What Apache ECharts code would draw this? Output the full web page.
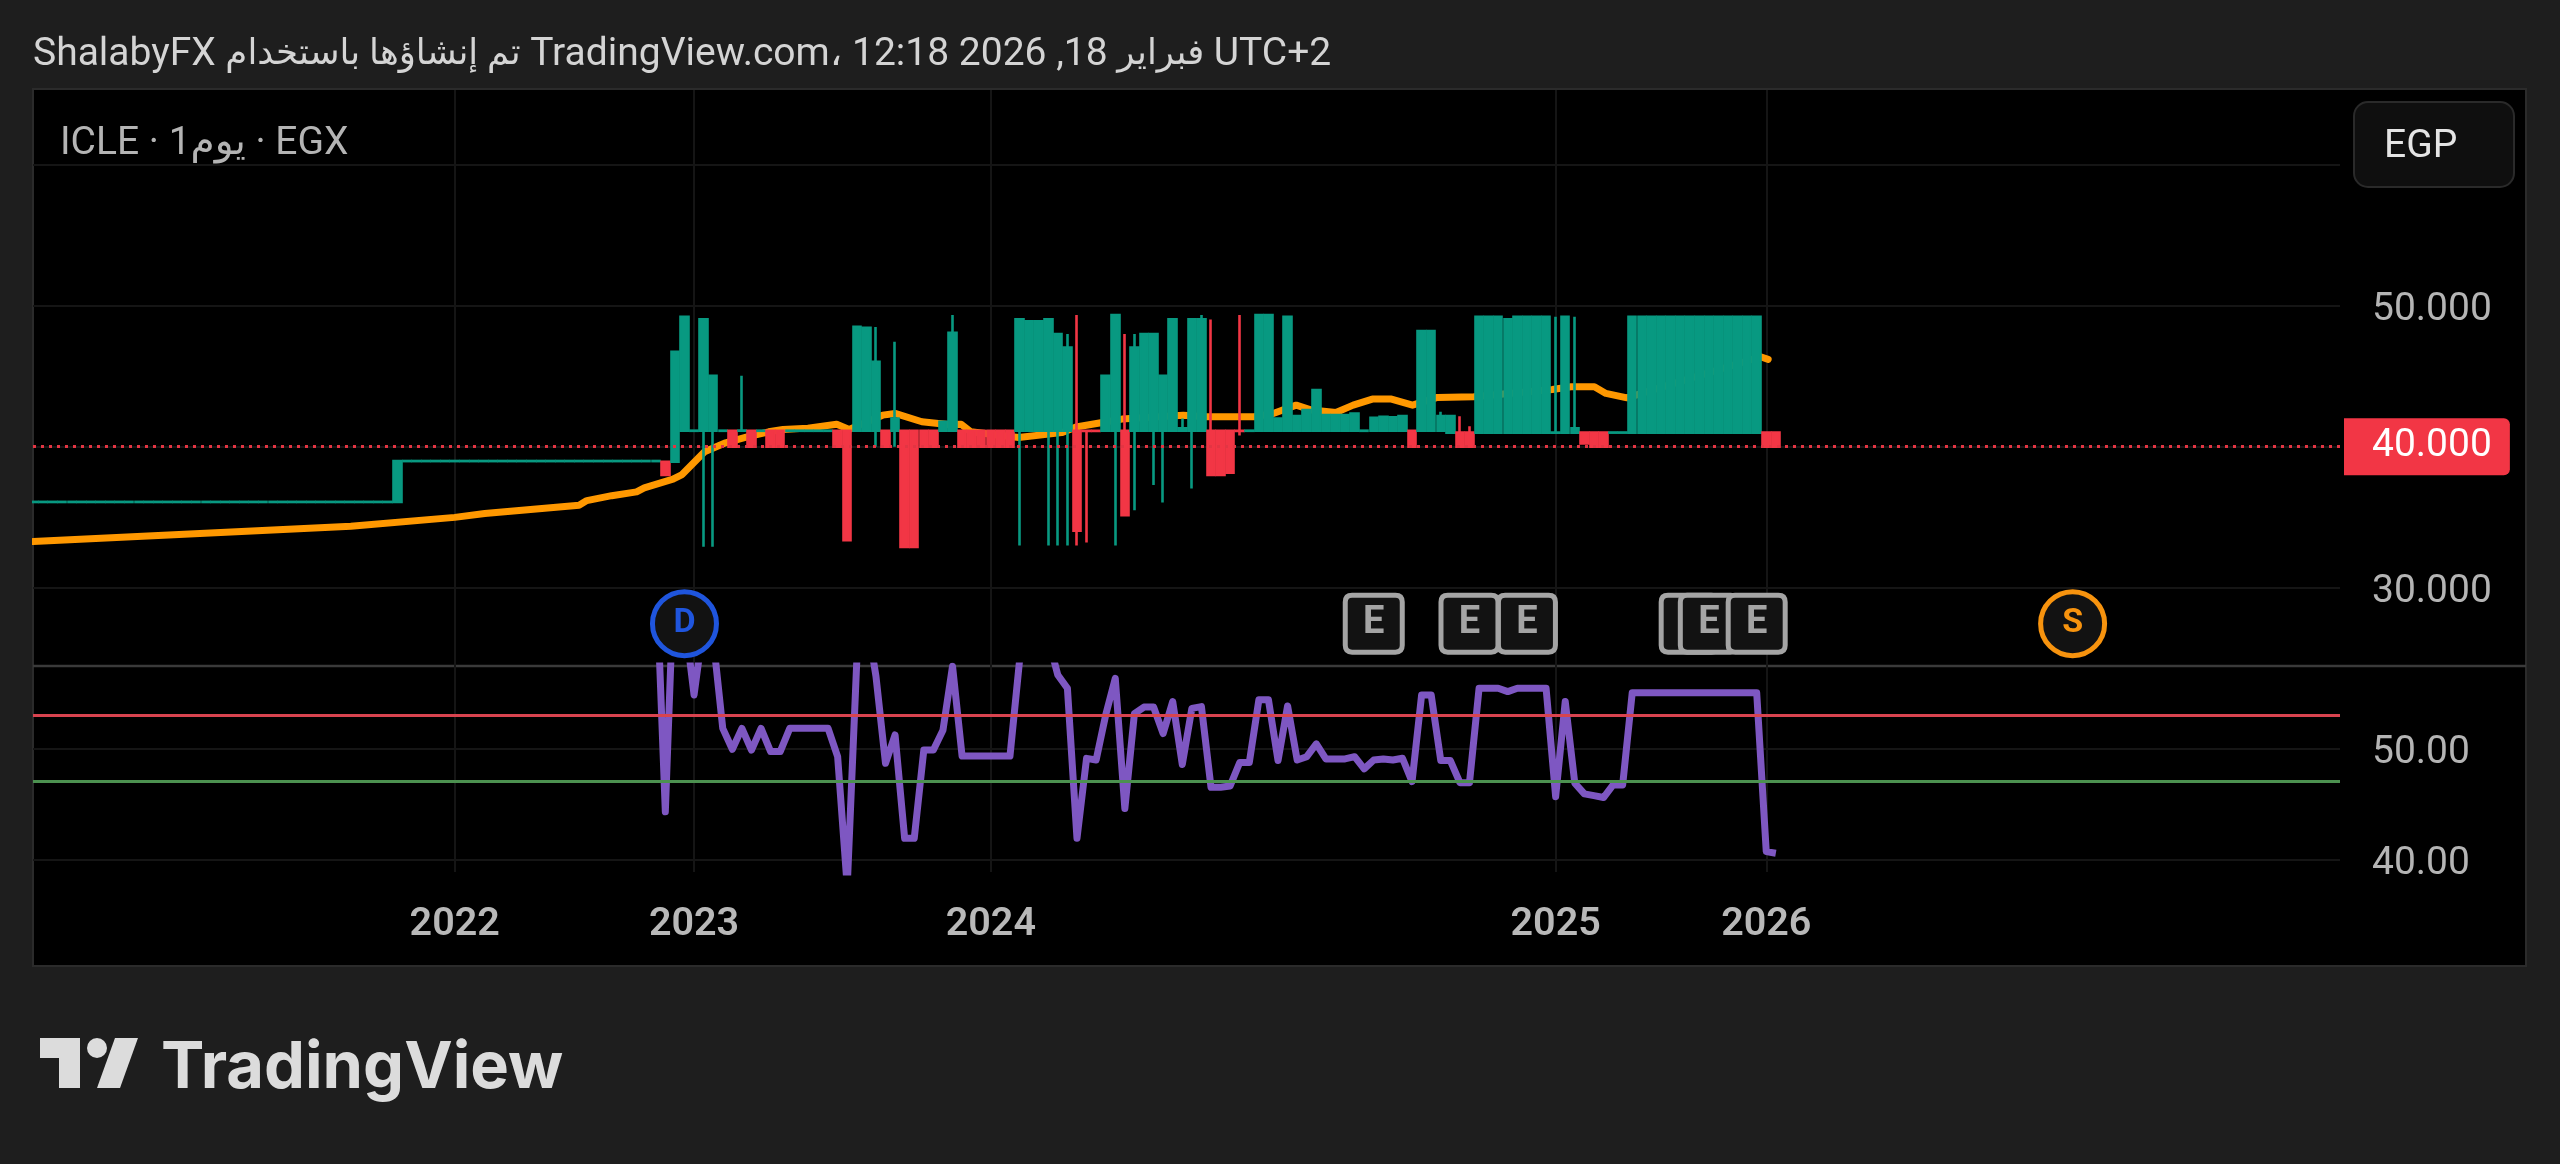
<!DOCTYPE html>
<html dir="ltr"><head><meta charset="utf-8">
<script src="https://cdn.jsdelivr.net/npm/echarts@6/dist/echarts.min.js"></script>
<style>html,body{margin:0;padding:0;background:#1e1e1e}#c{width:2560px;height:1164px}</style>
</head><body><div id="c"></div>
<script>
// Axis ticks (bar numbers on the index-based time scale)
const yearBars = [43, 68, 99, 158, 180];
const yearLabels = ['2022', '2023', '2024', '2025', '2026'];
const priceGrid = [30, 40, 50, 60];
const priceTicks = [30, 50];
const rsiTicks = [40, 50];
const lastPrice = 40;
const rsiUpper = 53.03;
const rsiLower = 47.05;

// Candles: [bar, open, close, low?, high?]
const candles2021 = [
[-1,36.08,36.09],[0,36.08,36.09],[1,36.08,36.09],[2,36.08,36.09],[3,36.08,36.09],[4,36.08,36.09],[5,36.08,36.09],[6,36.08,36.09],[7,36.08,36.09],[8,36.08,36.09],
[9,36.08,36.09],[10,36.08,36.09],[11,36.08,36.09],[12,36.08,36.09],[13,36.08,36.09],[14,36.08,36.09],[15,36.08,36.09],[16,36.08,36.09],[17,36.08,36.09],[18,36.08,36.09],
[19,36.08,36.09],[20,36.08,36.09],[21,36.08,36.09],[22,36.08,36.09],[23,36.08,36.09],[24,36.08,36.09],[25,36.08,36.09],[26,36.08,36.09],[27,36.08,36.09],[28,36.08,36.09],
[29,36.08,36.09],[30,36.08,36.09],[31,36.08,36.09],[32,36.08,36.09],[33,36.08,36.09],[34,36.08,36.09],[35,36.08,36.09],[36,36.08,36.09],[37,36.08,38.98]
];
const candles2022 = [
[38,38.98,38.99],[39,38.98,38.99],[40,38.98,38.99],[41,38.98,38.99],[42,38.98,38.99],[43,38.98,38.99],[44,38.98,38.99],[45,38.98,38.99],[46,38.98,38.99],[47,38.98,38.99],
[48,38.98,38.99],[49,38.98,38.99],[50,38.98,38.99],[51,38.98,38.99],[52,38.98,38.99],[53,38.98,38.99],[54,38.98,38.99],[55,38.98,38.99],[56,38.98,38.99],[57,38.98,38.99],
[58,38.98,38.99],[59,38.98,38.99],[60,38.98,38.99],[61,38.98,38.99],[62,38.98,38.99],[63,38.98,38.99],[64,38.98,38.99],
[65,38.94,38.0],[66,38.94,46.74],[67,41.13,49.22]
];
const candles2023 = [
[68,41.13,41.14],[69,41.13,49.03,32.9],[70,41.13,45.03,32.9],[71,41.13,41.14],[72,41.13,40],[73,41.13,41.14,41.13,45.03],[74,41.13,40],[75,41.13,41.14],[76,41.13,40],[77,41.13,40],
[78,41.13,41.14],[79,41.13,41.14],[80,41.13,41.14],[81,41.13,41.14],[82,41.13,41.14],[83,41.13,40],[84,41.13,33.38],[85,41.13,48.5],[86,41.13,48.44],[87,41.13,46.03,40,48.5],
[88,41.13,40],[89,41.13,42.0,40,47.45],[90,41.13,32.9],[91,41.13,32.9],[92,41.13,40],[93,41.13,40],[94,41.13,41.77],[95,41.13,48.08,41.13,49.34],
[96,41.13,40],[97,41.13,40],[98,41.13,40]
];
const candles2024 = [
[99,41.13,40],[100,41.13,40],[101,41.13,40],[102,41.13,49.03,33],[103,41.13,48.9],[104,41.13,48.9],[105,41.13,49.03,33],[106,41.13,48,33],[107,41.13,47.04,33,48],
[108,41.13,34.04,33,49.34],[109,41.13,41.12,33.2],[110,41.13,41.12],[111,41.13,45.03],[112,41.13,49.34,33],[113,41.13,35.15,35.15,48],[114,41.13,47.04,35.5,48],[115,41.13,48],
[116,41.13,48,37.28],[117,41.13,45.03,36.05],[118,41.13,49.03],[119,41.13,41.3,41.13,42],[120,41.13,49.03,37.04],[121,41.13,49.03,41.13,49.34],[122,41.13,38,38,49.03],[123,41.13,38],
[124,41.13,38.15],[125,41.13,41.12,40.8,49.34],[126,41.13,41.14],[127,41.13,49.34],[128,41.13,49.34],[129,41.13,42],[130,41.13,49.22],[131,41.13,42.17],[132,41.13,42.6],[133,41.13,44.02],
[134,41.13,42.24],[135,41.13,42.24],[136,41.13,42.24],[137,41.13,42.36],[138,41.13,41.14],[139,41.13,42.06],[140,41.13,42.13],[141,41.13,42.08],[142,41.13,42.17],[143,41.13,40],
[144,41.13,48.2],[145,41.13,48.2],[146,41.13,42.17,41.13,42.48],[147,41,42.17],[148,41,40,40,42.17],[149,41,40,40,41.46],[150,41,49.22],[151,41,49.22],[152,41,49.22],[153,41,49.03],
[154,41,49.22],[155,41,49.22],[156,41,49.22],[157,41,49.22]
];
const candles2025 = [
[158,41,41.01,41,49.22],[159,41,49.22],[160,41,41.3,41,49.22],[161,41,40.24],[162,41,40],[163,41,40],[164,41,41.01],[165,41,41.01],[166,41,49.22],[167,41,49.22],[168,41,49.22],[169,41,49.22],
[170,41,49.22],[171,41,49.22],[172,41,49.22],[173,41,49.22],[174,41,49.22],[175,41,49.22],[176,41,49.22],[177,41,49.22],[178,41,49.22],[179,41,49.22],[180,41,40],[181,41,40]
];

// Moving average: [bar, value]
const emaLine = [
[-1.03,33.28],[32.15,34.36],[43,34.99],[46.14,35.26],[55.99,35.85],[56.8,36.18],[59.4,36.53],[62,36.8],[62.8,37.08],[65.8,37.7],[66.75,38.03],[69.1,39.65],
[71.3,40.28],[73.55,40.7],[75.8,41.06],[77.3,41.23],[79.9,41.32],[82.9,41.6],[84.2,41.23],[87.7,42.24],[89,42.36],[91.8,41.77],[94.5,41.58],[95.9,41.6],[96.9,41.06],
[101.9,40.66],[106.4,41],[107.9,41.4],[110.5,41.7],[112.7,41.96],[119.1,42.24],[121.5,42.13],[126.5,42.13],[128.5,42.36],[130.9,42.95],[132.5,42.6],[135.05,42.43],
[136.85,42.95],[138.85,43.38],[140.85,43.38],[143.05,42.95],[145.65,43.5],[149.45,43.54],[157.65,44.06],[159.6,44.25],[162.05,44.25],[163.25,43.78],[165.45,43.47],
[179.4,46.38],[180.2,46.2]
];

// RSI pane: [bar, value]
const rsiA = [
[64,67],[65,44.3],[66,68],[67,62],[68,54.9],[69,61.3],[70,60],[71,51.87],[72,49.97],[73,51.87],[74,49.9],[75,51.87],[76,49.76],[77,49.76],[78,51.87],[79,51.87],[80,51.87],[81,51.87],[82,51.87],
[83,49.3],[84,37.5],[85,58],[86,62],[87,56.6],[88,48.7],[89,51.27],[90,41.9],[91,41.9],[92,49.9],[93,49.9],[94,51.7],[95,57.5],[96,49.36],[97,49.36],[98,49.36],[99,49.36],[100,49.36],[101,49.36]
];
const rsiB = [
[102,58],[103,62],[104,62],[105,60],[106,56.7],[107,55.5],[108,41.9],[109,49.15],[110,49],[111,53.08],[112,56.4],[113,44.6],[114,53.2],[115,53.8],[116,53.8],[117,51.4],[118,54.3],[119,48.6],[120,53.68],
[121,53.84],[122,46.53],[123,46.53],[124,46.65],[125,48.77],[126,48.77],[127,54.45],[128,54.45],[129,48.95],[130,53.9],[131,49],[132,49.3],[133,50.46],[134,49.1],[135,49.1],[136,49.1],[137,49.3],[138,48.2],[139,49],[140,49.1],[141,49],[142,49.16]
];
const rsiC = [
[143,47.04],[144,54.9],[145,54.9],[146,48.95],[147,48.95],[148,46.95],[149,46.95],[150,55.5],[151,55.5],[152,55.5],[153,55.2],[154,55.5],[155,55.5],[156,55.5],[157,55.5],[158,45.68],[159,54.3],[160,46.9],[161,45.93],[162,45.77],[163,45.6],[164,46.74],[165,46.74],
[166,55.1],[167,55.1],[168,55.1],[169,55.1],[170,55.1],[171,55.1],[172,55.1],[173,55.1],[174,55.1],[175,55.1],[176,55.1],[177,55.1],[178,55.1],[179,55.1],[180,40.7],[181,40.55]
];

// Event marks: bar numbers
const dividendBars = [67];
const earningsBars = [139, 149, 155, 172, 174, 179];
const splitBars = [212];
const eventLevel = 27.45;

const headerText = '{l|ShalabyFX }{a|تم إنشاؤها باستخدام}{l| TradingView.com،\u200E 12:18 2026 ,18 }{a|فبراير}{l| UTC+2}';
const symbolText = 'ICLE · 1يوم · EGX';
const currencyText = 'EGP';
const brandText = 'TradingView';

const F = "Roboto, 'DejaVu Sans', sans-serif";
const GREEN = '#089981', RED = '#F23645';
const candleRows = [].concat(candles2021, candles2022, candles2023, candles2024, candles2025)
  .map(r => {
    const o = r[1], c = r[2];
    const low = r[3] !== undefined ? r[3] : Math.min(o, c);
    const high = r[4] !== undefined ? r[4] : Math.max(o, c);
    return [r[0], o, c, low, high];
  });
const rsiRows = [].concat(rsiA, rsiB, rsiC);

const gridLine = { show: true, lineStyle: { color: '#151515', width: 2 } };
const xBase = {
  type: 'value', min: -1.05, max: 239.93, axisLine: { show: false },
  axisTick: { show: false, customValues: yearBars }, splitLine: gridLine
};
const SQUARE = 'path://M12 0H88Q100 0 100 12V88Q100 100 88 100H12Q0 100 0 88V12Q0 0 12 0Z';
const eventSeries = (name, bars, symbol, size, colour, letter, fontSize) => bars.map((b, i) => ({
  type: 'scatter', name, xAxisIndex: 0, yAxisIndex: 0, z: 6 + i, clip: false,
  symbol, symbolSize: size,
  itemStyle: { color: '#121212', borderColor: colour, borderWidth: 5, opacity: 1 },
  label: { show: true, position: 'inside', formatter: letter, color: colour, fontFamily: F, fontSize, fontWeight: 700 },
  data: [[b, eventLevel]]
}));
const sideLabel = { margin: 32, color: '#b4b4b4', fontFamily: F, fontSize: 39, verticalAlign: 'top', lineHeight: 9 };

const option = {
  animation: false,
  backgroundColor: '#1e1e1e',
  textStyle: { fontFamily: F },
  grid: [
    { left: 33, top: 90, width: 2307, height: 576 },
    { left: 33, top: 666, width: 2307, height: 206 }
  ],
  xAxis: [
    Object.assign({ gridIndex: 0, axisLabel: { show: false } }, xBase),
    Object.assign({ gridIndex: 1, axisLabel: {
      show: true, customValues: yearBars, margin: 33, color: '#b8b8b8', fontFamily: F, fontSize: 39.5, fontWeight: 600,
      formatter: v => yearLabels[yearBars.indexOf(v)]
    } }, xBase)
  ],
  yAxis: [
    { type: 'value', gridIndex: 0, position: 'right', min: 24.45, max: 65.3,
      axisLine: { show: false }, axisTick: { show: false, customValues: priceGrid }, splitLine: gridLine,
      axisLabel: Object.assign({ customValues: priceTicks, formatter: v => v.toFixed(3) }, sideLabel) },
    { type: 'value', gridIndex: 1, position: 'right', min: 38.85, max: 57.52,
      axisLine: { show: false }, axisTick: { show: false, customValues: rsiTicks }, splitLine: gridLine,
      axisLabel: Object.assign({ customValues: rsiTicks, formatter: v => v.toFixed(2) }, sideLabel) }
  ],
  series: [
    { type: 'line', name: 'EMA', xAxisIndex: 0, yAxisIndex: 0, z: 2, showSymbol: false, data: emaLine,
      lineStyle: { color: '#FF9800', width: 7, join: 'round', cap: 'round' } },
    { type: 'candlestick', name: 'ICLE', xAxisIndex: 0, yAxisIndex: 0, z: 3, barWidth: 8, data: candleRows,
      encode: { x: 0, y: [1, 2, 3, 4] },
      itemStyle: { color: GREEN, color0: RED, borderColor: GREEN, borderColor0: RED, borderWidth: 2.6 },
      markLine: { silent: true, symbol: 'none', z: 5, animation: false, data: [{ yAxis: lastPrice }],
        lineStyle: { color: '#E33543', type: [3, 5], width: 3 },
        label: { show: true, position: 'end', distance: 4, formatter: lastPrice.toFixed(3), color: '#fff', fontFamily: F, fontSize: 39,
          lineHeight: 40, backgroundColor: RED, padding: [13, 18, 4, 28], borderRadius: [0, 6, 6, 0] } } }
  ].concat(
    eventSeries('Dividends', dividendBars, 'circle', 64, '#1F55DD', 'D', 34),
    eventSeries('Earnings', earningsBars, SQUARE, 57, '#a4a4a4', 'E', 38),
    eventSeries('Splits', splitBars, 'circle', 64, '#F7930E', 'S', 34),
    [
    { type: 'line', name: 'RSI', xAxisIndex: 1, yAxisIndex: 1, z: 3, showSymbol: false, data: rsiRows,
      lineStyle: { color: '#7E57C2', width: 7, join: 'round' } },
    { type: 'line', name: 'RSI bands', xAxisIndex: 1, yAxisIndex: 1, z: 4, data: [],
      markLine: { silent: true, symbol: 'none', animation: false, label: { show: false },
        data: [
          { yAxis: rsiUpper, lineStyle: { color: '#D8434F', type: 'solid', width: 3 } },
          { yAxis: rsiLower, lineStyle: { color: '#4C9150', type: 'solid', width: 3 } }
        ] } }
  ]),
  graphic: [
    { type: 'rect', z: -10, silent: true, shape: { x: 33, y: 89, width: 2493, height: 877 }, style: { fill: '#000', stroke: '#2b2b2b', lineWidth: 2 } },
    { type: 'line', z: -9, silent: true, shape: { x1: 33, y1: 666, x2: 2526, y2: 666 }, style: { stroke: '#3a3a3a', lineWidth: 2.6 } },
    { type: 'rect', z: 20, silent: true, shape: { x: 0, y: 90, width: 32, height: 875 }, style: { fill: '#1e1e1e' } },
    { type: 'text', z: 21, silent: true, x: 33, y: 55, style: { text: headerText, verticalAlign: 'middle', fill: '#d4d4d4',
        rich: { l: { fontFamily: F, fontSize: 39, fill: '#d4d4d4', color: '#d4d4d4' }, a: { fontFamily: F, fontSize: 35.6, fill: '#d4d4d4', color: '#d4d4d4' } } } },
    { type: 'text', z: 10, silent: true, x: 60, y: 144, style: { text: symbolText, font: "39px " + F, fill: '#b4b4b4', verticalAlign: 'middle' } },
    { type: 'rect', z: 10, silent: true, shape: { x: 2354, y: 102, width: 160, height: 85, r: 14 }, style: { fill: '#0f0f0f', stroke: '#2a2a2a', lineWidth: 2 } },
    { type: 'text', z: 11, silent: true, x: 2384, y: 147, style: { text: currencyText, font: "39px " + F, fill: '#e4e4e4', verticalAlign: 'middle' } },
    { type: 'polygon', z: 10, silent: true, shape: { points: [[40,1038],[80,1038],[80,1088],[59,1088],[59,1058],[40,1058]] }, style: { fill: '#dcdcdc' } },
    { type: 'circle', z: 10, silent: true, shape: { cx: 97, cy: 1048, r: 10 }, style: { fill: '#dcdcdc' } },
    { type: 'polygon', z: 10, silent: true, shape: { points: [[115,1038],[138,1038],[120,1088],[97,1088]] }, style: { fill: '#dcdcdc' } },
    { type: 'text', z: 10, silent: true, x: 161, y: 1068, style: { text: brandText, font: "700 65px Inter, Lato, sans-serif", fill: '#dcdcdc', verticalAlign: 'middle' } }
  ]
};
const chart = echarts.init(document.getElementById('c'), null, { width: 2560, height: 1164 });
chart.setOption(option);
</script></body></html>
